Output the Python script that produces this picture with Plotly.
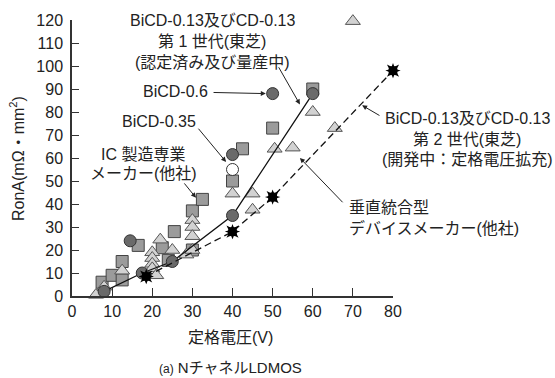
import plotly.graph_objects as go

# ---- data (rated voltage V, RonA mΩ·mm²) ----
gen1_v = [8, 17.5, 25, 40, 60]
gen1_r = [2, 10, 15, 35, 88]

circ_v = [14.5, 40, 50]
circ_r = [24, 61.5, 88]

open_v = [40]
open_r = [55]

gen2_v = [18.5, 40, 50, 80]
gen2_r = [8.5, 28, 43, 98]

sq_v = [7.5, 10, 12.5, 12.5, 16.5, 22.5, 24, 25.5, 30, 30, 32.5, 40, 42.5, 50, 60]
sq_r = [6, 9, 7, 15, 22, 21, 15.5, 28, 20, 37, 42, 50, 64, 73, 90]

tri_v = [6, 8, 12.5, 20, 20, 20, 20, 21, 22, 25, 28.5, 30, 30, 30, 30, 40, 45, 45, 50.5, 55, 60, 65.5, 70]
tri_r = [0.5, 4, 11, 19, 16.5, 14, 12, 9, 24.5, 20, 18, 33, 30, 26, 20, 44.5, 44.5, 37.5, 64, 64.5, 80, 73, 119.5]

x_ticks = [0, 10, 20, 30, 40, 50, 60, 70, 80]
y_ticks = [0, 10, 20, 30, 40, 50, 60, 70, 80, 90, 100, 110, 120]

FONT = "Liberation Sans, Arial, Noto Sans CJK JP, sans-serif"
TXT = "#222222"

W, H = 555, 378
ML, MR, MT, MB = 72, 162, 18, 82
PW, PH = W - ML - MR, H - MT - MB


def px_x(px):
    return (px - ML) / PW


def px_y(py):
    return (H - MB - py) / PH


fig = go.Figure()
fig.add_trace(go.Scatter(x=sq_v, y=sq_r, mode="markers", cliponaxis=False,
                         marker=dict(symbol="square", size=12, color="#9b9b9b",
                                     line=dict(color="#444444", width=1))))
fig.add_trace(go.Scatter(x=tri_v, y=tri_r, mode="markers", cliponaxis=False,
                         marker=dict(symbol="triangle-up", size=13, color="#d2d2d2",
                                     line=dict(color="#555555", width=1))))
fig.add_trace(go.Scatter(x=circ_v, y=circ_r, mode="markers", cliponaxis=False,
                         marker=dict(symbol="circle", size=12, color="#6a6a6a",
                                     line=dict(color="#333333", width=1))))
fig.add_trace(go.Scatter(x=open_v, y=open_r, mode="markers", cliponaxis=False,
                         marker=dict(symbol="circle", size=12, color="#ffffff",
                                     line=dict(color="#333333", width=1))))
fig.add_trace(go.Scatter(x=gen1_v, y=gen1_r, mode="lines+markers", cliponaxis=False,
                         line=dict(color="#111111", width=1.3),
                         marker=dict(symbol="circle", size=12, color="#6a6a6a",
                                     line=dict(color="#333333", width=1))))
fig.add_trace(go.Scatter(x=gen2_v, y=gen2_r, mode="lines", cliponaxis=False,
                         line=dict(color="#111111", width=1.3, dash="7px,4px")))
fig.add_trace(go.Scatter(x=gen2_v, y=gen2_r, mode="markers", cliponaxis=False,
                         marker=dict(symbol="star-square", size=11, color="#000000",
                                     line=dict(width=0))))
fig.add_trace(go.Scatter(x=gen2_v, y=gen2_r, mode="markers", cliponaxis=False,
                         marker=dict(symbol="star-diamond", size=11, color="#000000",
                                     line=dict(width=0))))

ann = []


def text(px, py, t, xanchor="center", size=16, angle=0):
    ann.append(dict(x=px_x(px), y=px_y(py), xref="paper", yref="paper", text=t,
                    showarrow=False, xanchor=xanchor, yanchor="middle", textangle=angle,
                    font=dict(family=FONT, size=size, color=TXT)))


def arrow(hx, hy, tx, ty):
    ann.append(dict(x=hx, y=hy, ax=tx, ay=ty, xref="x", yref="y", axref="x", ayref="y",
                    text="", showarrow=True, arrowhead=2, arrowsize=1, arrowwidth=1,
                    arrowcolor="#222222", standoff=0, startstandoff=0))


# 1st gen
text(212, 19, "BiCD-0.13及びCD-0.13")
text(212, 40, "第 1 世代(東芝)")
text(212, 61, "(認定済み及び量産中)")
arrow(56.8, 83.3, 51.3, 100.1)
# BiCD-0.6
text(210, 90, "BiCD-0.6", xanchor="right")
arrow(48.3, 88, 34.9, 88.5)
# BiCD-0.35
text(159, 120, "BiCD-0.35")
arrow(38.4, 58.3, 31.2, 73.4)
# IC
text(143, 153, "IC 製造専業")
text(143, 173, "メーカー(他社)")
arrow(30.9, 42.7, 27.7, 49.6)
# 2nd gen
text(467, 117, "BiCD-0.13及びCD-0.13")
text(467, 138, "第 2 世代(東芝)")
text(467, 159, "(開発中：定格電圧拡充)")
arrow(72.3, 82.9, 77, 78.1)
# IDM
text(347, 207, "垂直統合型", xanchor="left")
text(347, 228, "デバイスメーカー(他社)", xanchor="left")
arrow(56.8, 60, 67.8, 40.1)

# titles and caption
text(17, 158, "RonA(mΩ・mm<sup>2</sup>)", angle=-90)
text(230, 338, "定格電圧(V)")
text(230, 368, '<span style="font-size:12px">(a)</span> NチャネルLDMOS', size=15)

axis_common = dict(showline=True, linecolor="#333333", linewidth=1.5, showgrid=False,
                   zeroline=False, ticks="inside", tickcolor="#333333", tickwidth=1.2,
                   tickfont=dict(family=FONT, size=16, color=TXT))

fig.update_layout(
    width=W, height=H,
    margin=dict(l=ML, r=MR, t=MT, b=MB),
    paper_bgcolor="white", plot_bgcolor="white",
    showlegend=False,
    annotations=ann,
    xaxis=dict(range=[0, 80], tickvals=x_ticks, ticklen=8, **axis_common),
    yaxis=dict(range=[0, 120], tickvals=y_ticks, ticklen=7, ticklabelstandoff=4, **axis_common),
)

fig.write_html("out.html", config={"displayModeBar": False},
               post_script="document.body.style.margin='0';")
